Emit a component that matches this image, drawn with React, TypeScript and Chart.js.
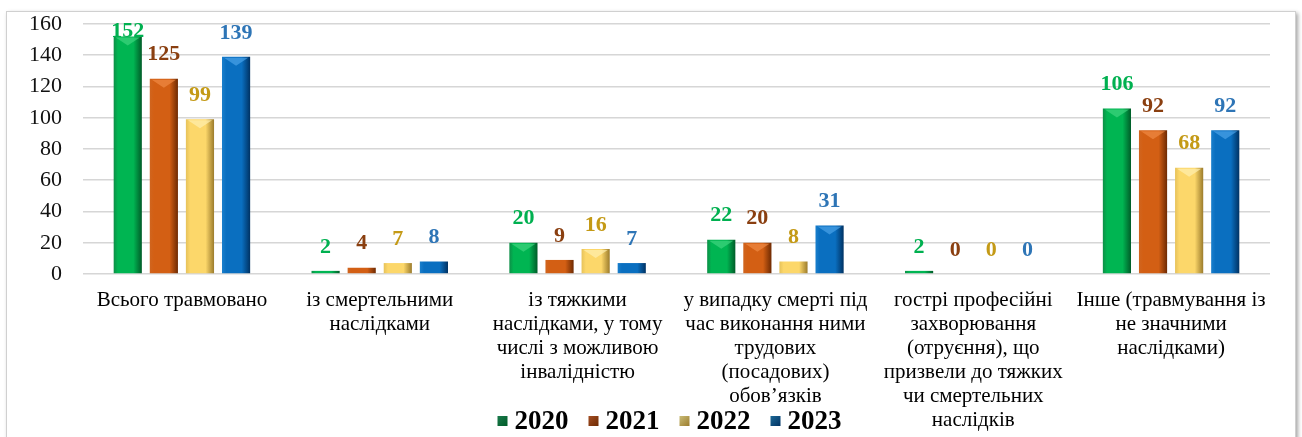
import { useEffect, useRef } from "react";
import { Chart, registerables } from "chart.js";

Chart.register(...registerables);

const categories: string[][] = [
  ["Всього травмовано"],
  ["із смертельними", "наслідками"],
  ["із тяжкими", "наслідками, у тому", "числі з можливою", "інвалідністю"],
  ["у випадку смерті під", "час виконання ними", "трудових", "(посадових)", "обов’язків"],
  ["гострі професійні", "захворювання", "(отруєння), що", "призвели до тяжких", "чи смертельних", "наслідків"],
  ["Інше (травмування із", "не значними", "наслідками)"],
];

const years = ["2020", "2021", "2022", "2023"];
const values2020 = [152, 2, 20, 22, 2, 106];
const values2021 = [125, 4, 9, 20, 0, 92];
const values2022 = [99, 7, 16, 8, 0, 68];
const values2023 = [139, 8, 7, 31, 0, 92];
const seriesValues = [values2020, values2021, values2022, values2023];

const yMin = 0;
const yMax = 160;
const yStep = 20;

const FONT = "'Liberation Serif', serif";

// [left edge, body, right edge, top highlight]
const barShades = [
  ["#0d8f47", "#00b552", "#005c28", "#3fd47f"],
  ["#d0651f", "#d35f14", "#6e2a02", "#f08a45"],
  ["#e6c25a", "#fcd76a", "#9c7c2c", "#fff0b0"],
  ["#1a7fcc", "#0a6fc0", "#003263", "#4aa3e8"],
];
const labelColors = ["#00b050", "#8a3f10", "#c49a16", "#2e75b6"];
const legendColors = ["#1b7a4c", "#a34e24", "#c9bc78", "#1d6996"];

const gradientPlugin = {
  id: "barGradient",
  beforeDatasetsDraw(chart: any) {
    const ctx = chart.ctx as CanvasRenderingContext2D;
    chart.data.datasets.forEach((_ds: any, di: number) => {
      const meta = chart.getDatasetMeta(di);
      meta.data.forEach((el: any) => {
        const w = el.width;
        const x0 = el.x - w / 2;
        const g = ctx.createLinearGradient(x0, 0, x0 + w, 0);
        const c = barShades[di];
        g.addColorStop(0, c[0]);
        g.addColorStop(0.15, c[1]);
        g.addColorStop(0.7, c[1]);
        g.addColorStop(1, c[2]);
        el.options.backgroundColor = g;
      });
    });
  },
  afterDatasetsDraw(chart: any) {
    const ctx = chart.ctx as CanvasRenderingContext2D;
    ctx.save();
    chart.data.datasets.forEach((ds: any, di: number) => {
      const meta = chart.getDatasetMeta(di);
      meta.data.forEach((el: any, i: number) => {
        const w = el.width;
        const h = el.base - el.y;
        if (h > w * 0.6) {
          ctx.fillStyle = barShades[di][3];
          ctx.globalAlpha = 0.7;
          ctx.beginPath();
          ctx.moveTo(el.x - w / 2 + 2, el.y + 1);
          ctx.lineTo(el.x + w / 2 - 2, el.y + 1);
          ctx.lineTo(el.x, el.y + w * 0.32);
          ctx.closePath();
          ctx.fill();
          ctx.globalAlpha = 1;
        }
        const v = ds.data[i];
        ctx.fillStyle = labelColors[di];
        ctx.font = `bold 22px ${FONT}`;
        ctx.textAlign = "center";
        ctx.textBaseline = "middle";
        const y = Math.max(el.y - 24, 31);
        ctx.fillText(String(v), el.x, y);
      });
    });
    ctx.restore();
  },
};

const legendPlugin = {
  id: "customLegend",
  afterDraw(chart: any) {
    const ctx = chart.ctx as CanvasRenderingContext2D;
    ctx.save();
    ctx.font = `bold 27px ${FONT}`;
    ctx.textBaseline = "middle";
    ctx.textAlign = "left";
    const marker = 10;
    const gapM = 7;
    const gapItem = 20;
    const widths = years.map((y) => ctx.measureText(y).width);
    const total =
      widths.reduce((a, b) => a + b, 0) + years.length * (marker + gapM) + gapItem * (years.length - 1);
    const area = chart.chartArea;
    let x = (area.left + area.right) / 2 - 7 - total / 2;
    const y = 421;
    years.forEach((yr, i) => {
      const g = ctx.createLinearGradient(x, y - marker / 2, x + marker, y + marker / 2);
      g.addColorStop(0, legendColors[i]);
      g.addColorStop(1, barShades[i][2]);
      ctx.fillStyle = g;
      ctx.fillRect(x, y - marker / 2, marker, marker);
      x += marker + gapM;
      ctx.fillStyle = "#000";
      ctx.fillText(yr, x, y + 1);
      x += widths[i] + gapItem;
    });
    ctx.restore();
  },
};

export default function App() {
  const canvasRef = useRef<HTMLCanvasElement | null>(null);

  useEffect(() => {
    if (!canvasRef.current) return;
    const chart = new Chart(canvasRef.current, {
      type: "bar",
      data: {
        labels: categories,
        datasets: years.map((yr, i) => ({
          label: yr,
          data: seriesValues[i],
          backgroundColor: () => barShades[i][1],
          borderWidth: 0,
          categoryPercentage: 0.73,
          barPercentage: 0.78,
        })),
      },
      options: {
        animation: false,
        responsive: true,
        maintainAspectRatio: false,
        layout: { padding: { top: 24, right: 32, left: 0, bottom: 0 } },
        plugins: {
          legend: { display: false },
          tooltip: { enabled: false },
          title: { display: false },
        },
        scales: {
          x: {
            grid: { display: false, drawTicks: false },
            border: { display: false },
            ticks: {
              color: "#000",
              font: { family: FONT, size: 21, lineHeight: 1.15 },
              padding: 14,
              maxRotation: 0,
              autoSkip: false,
            },
            afterFit: (scale: any) => {
              scale.height = 163;
            },
          },
          y: {
            min: yMin,
            max: yMax,
            grid: { color: "#d6d6d6", lineWidth: 1.6, drawTicks: false },
            border: { display: false },
            ticks: {
              stepSize: yStep,
              color: "#111",
              font: { family: FONT, size: 22 },
              padding: 21,
            },
            afterFit: (scale: any) => {
              scale.width = 83;
              scale.paddingTop = 12;
              scale.paddingBottom = 12;
            },
          },
        },
      },
      plugins: [gradientPlugin, legendPlugin],
    });
    return () => chart.destroy();
  }, []);

  return (
    <div style={{ position: "absolute", left: 0, top: 0, width: 1302, height: 437, background: "#fff", overflow: "hidden" }}>
      <div
        style={{
          position: "absolute",
          left: 6,
          top: 11,
          width: 1288,
          height: 440,
          border: "1px solid #d0d0d0",
          boxShadow: "2px 2px 4px rgba(0,0,0,0.35)",
          background: "#fff",
        }}
      />
      <div style={{ position: "absolute", left: 0, top: 0, width: 1302, height: 437 }}>
        <canvas ref={canvasRef} />
      </div>
    </div>
  );
}
